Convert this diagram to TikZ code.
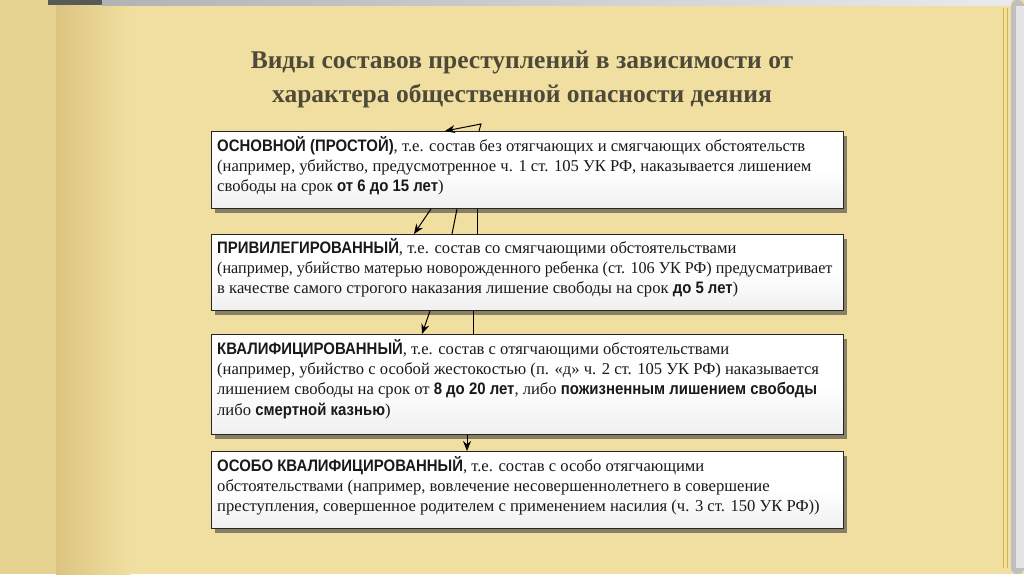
\documentclass[tikz,border=0pt]{standalone}
\usepackage{fontspec}
\setmainfont{Liberation Serif}
\newfontfamily\bsansfont{Liberation Sans}[FakeStretch=0.9]
\usetikzlibrary{shadows,calc,arrows.meta}
\definecolor{page}{RGB}{240,223,160}
\definecolor{pageleft}{RGB}{230,211,146}
\definecolor{pagemid}{RGB}{220,196,128}
\definecolor{titlecol}{RGB}{78,74,58}
\definecolor{txt}{RGB}{25,25,25}
\definecolor{goldline}{RGB}{214,180,70}
\newcommand{\bs}[1]{{\bsansfont\bfseries #1}}
\tikzset{
  boxshape/.style={draw=black!85, line width=0.9pt, inner sep=0pt,
    top color=white, bottom color=black!6, middle color=white,
    drop shadow={shadow xshift=4pt, shadow yshift=-5pt, opacity=0.55, fill=black!80}},
  boxtext/.style={anchor=north west, inner sep=0pt, align=left, text=txt,
    font=\fontsize{16.6}{20.3}\selectfont},
  arr/.style={line width=1pt, -{Stealth[length=10pt,width=8pt]}},
  plain/.style={line width=1pt}
}
\begin{document}
\begin{tikzpicture}[x=1pt,y=-1pt]
\useasboundingbox (0,0) rectangle (1024,574);
% background book
\fill[page] (0,0) rectangle (1024,574);
\fill[pageleft] (0,0) rectangle (56,574);
\shade[left color=pagemid, right color=page] (56,0) rectangle (130,574);
\fill[black!65] (48,0) rectangle (102,5);
\shade[left color=black!30, right color=black!8] (102,0) rectangle (1012,5);
\draw[goldline, line width=0.8pt] (1003,8) -- (1003,568);
\draw[goldline, line width=0.8pt] (1007,8) -- (1007,568);
\fill[black!25, rounded corners=6pt] (1011,0) rectangle (1024,574);
\fill[black!10] (1016,6) rectangle (1024,568);
% title
\node[font=\fontsize{25.5}{34}\selectfont\bfseries, text=titlecol, align=center] (title) at (522,79)
  {Виды составов преступлений в зависимости от\\характера общественной опасности деяния};
% boxes
\node[boxshape, minimum width=632pt, minimum height=77pt, anchor=north west] (b1) at (211,131) {};
\node[boxshape, minimum width=632pt, minimum height=76pt, anchor=north west] (b2) at (211,234) {};
\node[boxshape, minimum width=632pt, minimum height=100pt, anchor=north west] (b3) at (211,334) {};
\node[boxshape, minimum width=632pt, minimum height=77pt, anchor=north west] (b4) at (211,451) {};
\node[boxtext] (t1) at ($(b1.north west)+(6,5)$)
  {\bs{ОСНОВНОЙ (ПРОСТОЙ)}, т.е. состав без отягчающих и смягчающих обстоятельств\\
   (например, убийство, предусмотренное ч. 1 ст. 105 УК РФ, наказывается лишением\\
   свободы на срок \bs{от 6 до 15 лет})};
\node[boxtext] (t2) at ($(b2.north west)+(6,4)$)
  {\bs{ПРИВИЛЕГИРОВАННЫЙ}, т.е. состав со смягчающими обстоятельствами\\
   \scalebox{0.972}[1]{(например, убийство матерью новорожденного ребенка (ст. 106 УК РФ) предусматривает}\\
   в качестве самого строгого наказания лишение свободы на срок \bs{до 5 лет})};
\node[boxtext] (t3) at ($(b3.north west)+(6,5)$)
  {\bs{КВАЛИФИЦИРОВАННЫЙ}, т.е. состав с отягчающими обстоятельствами\\
   (например, убийство с особой жестокостью (п. «д» ч. 2 ст. 105 УК РФ) наказывается\\
   лишением свободы на срок от \bs{8 до 20 лет}, либо \bs{пожизненным лишением свободы}\\
   либо \bs{смертной казнью})};
\node[boxtext] (t4) at ($(b4.north west)+(6,5)$)
  {\bs{ОСОБО КВАЛИФИЦИРОВАННЫЙ}, т.е. состав с особо отягчающими\\
   обстоятельствами (например, вовлечение несовершеннолетнего в совершение\\
   преступления, совершенное родителем с применением насилия (ч. 3 ст. 150 УК РФ))};
% connectors
\coordinate (k0) at ($(b1.north west)+(270,-7)$);
\draw[arr] ($(b1.north west)+(268,0)$) -- (k0) -- ($(b1.north west)+(234,0)$);
\draw[arr] ($(b1.south west)+(220,0)$) -- ($(b2.north west)+(203,0)$);
\draw[plain] ($(b1.south west)+(246,0)$) -- ($(b2.north west)+(241,0)$);
\draw[plain] ($(b1.south west)+(266,0)$) -- ($(b2.north west)+(266,0)$);
\draw[arr] ($(b2.south west)+(219,0)$) -- ($(b3.north west)+(211,0)$);
\draw[plain] ($(b2.south west)+(262,0)$) -- ($(b3.north west)+(262,0)$);
\draw[arr] ($(b3.south west)+(256,0)$) -- ($(b4.north west)+(256,0)$);
\end{tikzpicture}
\end{document}
